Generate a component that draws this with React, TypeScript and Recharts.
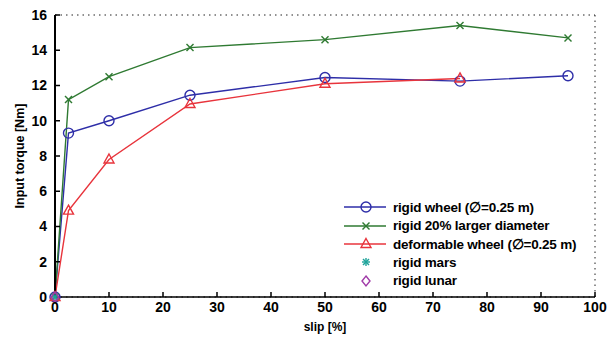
import React from "react";
import {
  LineChart, Line, XAxis, YAxis, CartesianGrid,
} from "recharts";

const slipRigid = [0, 2.5, 10, 25, 50, 75, 95];
const torqueRigid = [0, 9.3, 10.0, 11.45, 12.45, 12.25, 12.55];
const slipLarger = [0, 2.5, 10, 25, 50, 75, 95];
const torqueLarger = [0, 11.2, 12.5, 14.15, 14.6, 15.4, 14.7];
const slipDeform = [0, 2.5, 10, 25, 50, 75];
const torqueDeform = [0, 4.9, 7.8, 10.95, 12.1, 12.4];
const slipMars = [0];
const torqueMars = [0];
const slipLunar = [0];
const torqueLunar = [0];

const xTicks = [0, 10, 20, 30, 40, 50, 60, 70, 80, 90, 100];
const yTicks = [0, 2, 4, 6, 8, 10, 12, 14, 16];

const FONT = "Arial, 'Liberation Sans', Helvetica, sans-serif";

const zip = (xs: number[], ys: number[]) => xs.map((x, i) => ({ slip: x, torque: ys[i] }));

type Marker = "circle" | "x" | "triangle" | "star" | "diamond";

function drawMarker(kind: Marker, cx: number, cy: number, color: string, key?: any) {
  const sw = 1.4;
  switch (kind) {
    case "circle":
      return <circle key={key} cx={cx} cy={cy} r={5} fill="none" stroke={color} strokeWidth={sw} />;
    case "x":
      return (
        <g key={key} stroke={color} strokeWidth={sw}>
          <line x1={cx - 3.5} y1={cy - 3.5} x2={cx + 3.5} y2={cy + 3.5} />
          <line x1={cx - 3.5} y1={cy + 3.5} x2={cx + 3.5} y2={cy - 3.5} />
        </g>
      );
    case "triangle":
      return (
        <polygon key={key} points={`${cx},${cy - 5.5} ${cx + 5},${cy + 3.5} ${cx - 5},${cy + 3.5}`}
          fill="none" stroke={color} strokeWidth={sw} />
      );
    case "star":
      return (
        <g key={key} stroke={color} strokeWidth={sw}>
          <line x1={cx - 4} y1={cy} x2={cx + 4} y2={cy} />
          <line x1={cx} y1={cy - 4} x2={cx} y2={cy + 4} />
          <line x1={cx - 3} y1={cy - 3} x2={cx + 3} y2={cy + 3} />
          <line x1={cx - 3} y1={cy + 3} x2={cx + 3} y2={cy - 3} />
        </g>
      );
    case "diamond":
      return (
        <polygon key={key} points={`${cx},${cy - 5} ${cx + 4},${cy} ${cx},${cy + 5} ${cx - 4},${cy}`}
          fill="none" stroke={color} strokeWidth={sw} />
      );
  }
}

const series = [
  { name: "rigid wheel (\u2205=0.25 m)", data: zip(slipRigid, torqueRigid), color: "#2e2ea8", marker: "circle" as Marker, line: true },
  { name: "rigid 20% larger diameter", data: zip(slipLarger, torqueLarger), color: "#2f7a32", marker: "x" as Marker, line: true },
  { name: "deformable wheel (\u2205=0.25 m)", data: zip(slipDeform, torqueDeform), color: "#e8343c", marker: "triangle" as Marker, line: true },
  { name: "rigid mars", data: zip(slipMars, torqueMars), color: "#1fa39a", marker: "star" as Marker, line: false },
  { name: "rigid lunar", data: zip(slipLunar, torqueLunar), color: "#a03aa8", marker: "diamond" as Marker, line: false },
];

const tickStyle = { fill: "#000", fontSize: 14, fontWeight: 700, fontFamily: FONT };

function LegendBox() {
  return (
    <div style={{ position: "absolute", left: 340, top: 198, fontFamily: FONT, fontSize: 13.5, fontWeight: 700 }}>
      {series.map((s) => (
        <div key={s.name} style={{ display: "flex", alignItems: "center", height: 18.4 }}>
          <svg width={50} height={18} style={{ display: "block" }}>
            {s.line && <line x1={4} y1={9} x2={46} y2={9} stroke={s.color} strokeWidth={1.4} />}
            {drawMarker(s.marker, 26, 9, s.color)}
          </svg>
          <span style={{ marginLeft: 3, color: "#000", whiteSpace: "nowrap", letterSpacing: -0.2 }}>{s.name}</span>
        </div>
      ))}
    </div>
  );
}

export default function App() {
  return (
    <div style={{ position: "absolute", left: 0, top: 0, width: 614, height: 338, background: "#fff" }}>
      <LineChart width={614} height={338} margin={{ top: 15, right: 19, bottom: 0, left: 0 }}>
        <CartesianGrid stroke="#222" strokeDasharray="1.5 4" strokeWidth={1} />
        <XAxis
          xAxisId="b" dataKey="slip" type="number" domain={[0, 100]} ticks={xTicks}
          height={41} tickSize={-5} tickMargin={10} tick={tickStyle}
          axisLine={{ stroke: "#000", strokeWidth: 1.5 }} tickLine={{ stroke: "#000", strokeWidth: 1.5 }}
          label={{ value: "slip [%]", position: "insideBottom", offset: 7, style: { ...tickStyle, fontSize: 12 } }}
        />
        <XAxis
          xAxisId="t" orientation="top" dataKey="slip" type="number" domain={[0, 100]} ticks={xTicks}
          height={0} tickSize={-5} tickFormatter={() => ""}
          axisLine={{ stroke: "#000", strokeWidth: 1.5 }} tickLine={{ stroke: "#000", strokeWidth: 1.5 }}
        />
        <YAxis
          yAxisId="l" type="number" domain={[0, 16]} ticks={yTicks} width={55}
          tickSize={-5} tickMargin={13} tick={tickStyle}
          axisLine={{ stroke: "#000", strokeWidth: 2 }} tickLine={{ stroke: "#000", strokeWidth: 1.5 }}
          label={{ value: "Input torque [Nm]", angle: -90, position: "insideLeft", offset: 20, style: { ...tickStyle, fontSize: 12.5, textAnchor: "middle" } }}
        />
        <YAxis
          yAxisId="r" orientation="right" type="number" domain={[0, 16]} ticks={yTicks} width={0}
          tickSize={-5} tickFormatter={() => ""}
          axisLine={{ stroke: "#000", strokeWidth: 1.5 }} tickLine={{ stroke: "#000", strokeWidth: 1.5 }}
        />
        {series.map((s) => (
          <Line
            key={s.name}
            xAxisId="b"
            yAxisId="l"
            data={s.data}
            dataKey="torque"
            type="linear"
            stroke={s.line ? s.color : "none"}
            strokeWidth={1.4}
            isAnimationActive={false}
            dot={(p: any) => (p.cx == null ? <g key={p.index} /> : drawMarker(s.marker, p.cx, p.cy, s.color, `${s.name}-${p.index}`))}
            activeDot={false}
          />
        ))}
      </LineChart>
      <LegendBox />
    </div>
  );
}
